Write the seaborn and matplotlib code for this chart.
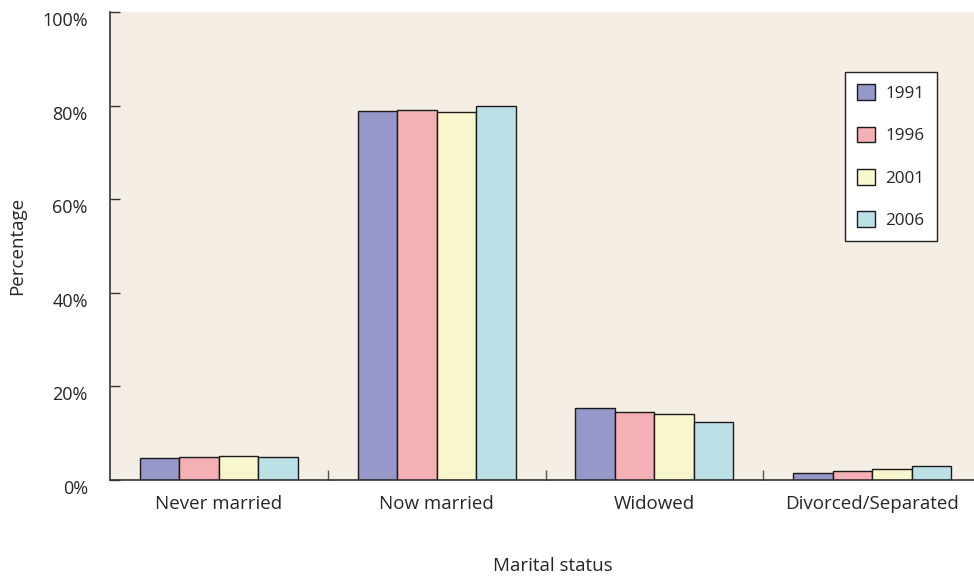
import numpy as np
import pandas as pd
import matplotlib
matplotlib.use("Agg")
import matplotlib.pyplot as plt
import matplotlib.transforms as mtransforms
import seaborn as sns

categories = ["Never married", "Now married", "Widowed", "Divorced/Separated"]
years = ["1991", "1996", "2001", "2006"]
pct_1991 = [4.6, 78.8, 15.3, 1.4]
pct_1996 = [4.9, 79.1, 14.5, 1.9]
pct_2001 = [5.2, 78.6, 14.2, 2.3]
pct_2006 = [4.85, 80.0, 12.4, 2.9]
colors = ["#9598C8", "#F4B0B4", "#F8F6CC", "#BBE0E6"]

rows = []
for yr, vals in zip(years, [pct_1991, pct_1996, pct_2001, pct_2006]):
    for cat, v in zip(categories, vals):
        rows.append({"status": cat, "year": yr, "pct": v})
df = pd.DataFrame(rows)

sns.set_style("white")
plt.rcParams["font.family"] = ["Open Sans", "DejaVu Sans"]

fig = plt.figure(figsize=(9.74, 5.79), dpi=100)
ax = fig.add_axes([110 / 974, 99 / 579, 871 / 974, 468 / 579])
ax.set_facecolor("#F5EEE4")

sns.barplot(data=df, x="status", y="pct", hue="year", order=categories,
            hue_order=years, palette=colors, width=0.725, saturation=1,
            edgecolor="#1a1a1a", linewidth=1.0, ax=ax)

ax.set_xlim(-0.5, 3.5)
ax.set_ylim(0, 100)

for s in ["top", "right"]:
    ax.spines[s].set_visible(False)
for s in ["left", "bottom"]:
    ax.spines[s].set_color("#333333")
    ax.spines[s].set_linewidth(1.2)

ax.set_yticks([0, 20, 40, 60, 80, 100])
ax.set_yticklabels(["0%", "20%", "40%", "60%", "80%", "100%"])
ax.tick_params(axis="y", direction="in", length=7.5, width=1, color="#333333",
               pad=16, labelsize=13, left=True)
# labels sit a bit below their ticks in the reference
offset = mtransforms.ScaledTranslation(0, -5 / 72, fig.dpi_scale_trans)
for lbl in ax.get_yticklabels():
    lbl.set_transform(lbl.get_transform() + offset)

ax.set_xticks([0.5, 1.5, 2.5], minor=True)
ax.tick_params(axis="x", which="major", length=0, pad=11, labelsize=13.5)
ax.tick_params(axis="x", which="minor", direction="in", length=7, width=1,
               color="#555555", bottom=True)

ax.set_xlabel("Marital status", fontsize=13.5)
ax.set_ylabel("Percentage", fontsize=13.5)
ax.yaxis.set_label_coords(-84 / 871, 0.5)
ax.xaxis.set_label_coords(443 / 871, -0.165)

leg = ax.legend(loc="upper left", bbox_to_anchor=(735 / 871, 1 - 60 / 468),
                frameon=True, fancybox=False, handlelength=1.05, handleheight=1.05,
                labelspacing=1.44, borderpad=0.72, handletextpad=0.6,
                fontsize=12.3, title=None, borderaxespad=0)
leg.get_frame().set_edgecolor("#222222")
leg.get_frame().set_linewidth(1.0)
leg.get_frame().set_facecolor("white")
leg.get_frame().set_alpha(1)

fig.savefig("out.png", dpi=100)
